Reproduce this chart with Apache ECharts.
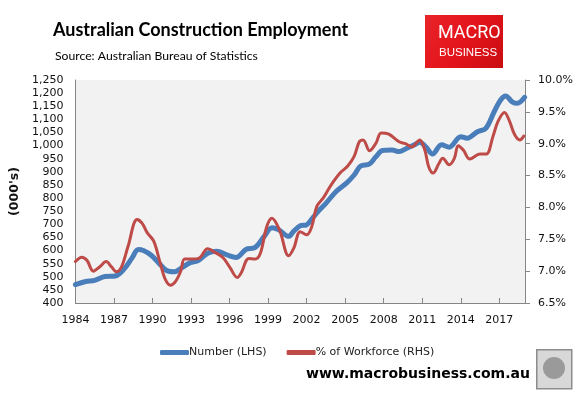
<!DOCTYPE html>
<html>
<head>
<meta charset="utf-8">
<script src="https://cdn.jsdelivr.net/npm/echarts@6/dist/echarts.min.js"></script>
<style>
html,body{margin:0;padding:0;background:#fff;}
#c{width:584px;height:394px;}
</style>
</head>
<body>
<div id="c"></div>
<script>
// Number employed in construction ('000s, LHS)
const numYears = [1984.0,1984.8,1985.5,1986.3,1987.1,1987.8,1988.4,1988.9,1989.3,1989.9,1990.5,1991.1,1991.7,1992.3,1992.9,1993.6,1994.3,1995.0,1995.8,1996.5,1997.3,1998.0,1998.7,1999.3,1999.8,2000.6,2001.0,2001.5,2002.0,2002.4,2002.9,2003.5,2004.3,2005.1,2005.7,2006.2,2006.9,2007.4,2007.9,2008.65,2009.2,2009.8,2010.4,2010.8,2011.3,2011.8,2012.5,2013.1,2014.0,2014.5,2015.3,2015.95,2016.6,2017.1,2017.5,2018.0,2018.4,2018.97];
const numValues = [470,482,486,501,503,530,571,604,600,582,552,524,519,535,553,563,590,597,583,573,605,612,654,687,680,654,674,694,698,720,749,780,825,857,888,922,930,958,981,983,977,990,1003,1013,994,968,1003,994,1034,1028,1053,1066,1129,1174,1189,1167,1161,1184];
// Construction share of workforce (%, RHS)
const pctYears = [1984.0,1984.5,1984.9,1985.4,1985.9,1986.4,1986.8,1987.2,1987.6,1988.1,1988.8,1989.2,1989.6,1990.1,1990.6,1991.0,1991.4,1991.8,1992.2,1992.5,1993.1,1993.6,1994.3,1994.9,1995.5,1996.05,1996.6,1996.9,1997.5,1998.0,1998.4,1998.9,1999.3,1999.9,2000.6,2001.0,2001.5,2002.0,2002.4,2002.8,2003.3,2003.9,2004.6,2005.2,2005.7,2006.1,2006.4,2006.9,2007.4,2007.8,2008.4,2009.2,2009.7,2010.2,2010.8,2011.2,2011.5,2011.85,2012.3,2012.6,2013.1,2013.5,2013.8,2014.2,2014.7,2015.5,2016.0,2016.5,2016.9,2017.4,2017.8,2018.2,2018.6,2018.9];
const pctValues = [7.15,7.22,7.17,7.00,7.07,7.15,7.07,6.99,7.07,7.39,7.81,7.75,7.60,7.47,7.13,6.87,6.78,6.84,7.00,7.19,7.19,7.20,7.35,7.29,7.21,7.05,6.90,6.97,7.20,7.19,7.28,7.70,7.83,7.64,7.24,7.36,7.62,7.57,7.70,8.02,8.15,8.35,8.54,8.65,8.80,9.03,9.06,8.89,9.01,9.17,9.15,9.03,9.00,8.95,9.06,8.90,8.64,8.54,8.69,8.77,8.67,8.77,8.97,8.90,8.76,8.84,8.84,9.11,9.35,9.49,9.35,9.14,9.06,9.12];
const seriesNames = ['Number (LHS)', '% of Workforce (RHS)'];
const titleText = 'Australian Construction Employment';
const sourceText = 'Source: Australian Bureau of Statistics';
const yAxisName = "(000's)";
const siteText = 'www.macrobusiness.com.au';

const axisGray = '#868686';
const lblFont = 'DejaVu Sans';

const chart = echarts.init(document.getElementById('c'), null, {renderer:'canvas'});
chart.setOption({
  animation:false,
  backgroundColor:'#ffffff',
  grid:{left:69, right:59, top:80, bottom:91, show:true, backgroundColor:'#f2f2f2', borderWidth:0},
  legend:{
    left:160, top:347, padding:0, itemWidth:29, itemHeight:5, itemGap:20, icon:'roundRect',
    textStyle:{fontFamily:lblFont, fontSize:11, color:'#222', padding:[0,0,0,-5]},
    data:seriesNames
  },
  xAxis:{
    type:'value', min:1984, max:2019, interval:3,
    axisLine:{show:true, lineStyle:{color:axisGray, width:1}},
    axisTick:{show:true, inside:true, length:5, lineStyle:{color:axisGray}},
    splitLine:{show:false},
    axisLabel:{fontFamily:lblFont, fontSize:11, color:'#111', margin:12,
      formatter:v => ((v-1984)%3===0 ? String(v) : '')}
  },
  yAxis:[{
    type:'value', min:400, max:1250, interval:50, position:'left',
    name:yAxisName, nameLocation:'middle', nameGap:43, nameRotate:90,
    nameTextStyle:{fontFamily:lblFont, fontSize:12.5, fontWeight:'bold', color:'#111'},
    axisLine:{show:true, lineStyle:{color:axisGray}},
    axisTick:{show:false},
    splitLine:{show:false},
    axisLabel:{fontFamily:lblFont, fontSize:11, color:'#111', margin:12,
      formatter:v => v.toLocaleString('en-US')}
  },{
    type:'value', min:6.5, max:10, interval:0.5, position:'right',
    axisLine:{show:true, lineStyle:{color:axisGray}},
    axisTick:{show:true, length:5, lineStyle:{color:axisGray}},
    splitLine:{show:false},
    axisLabel:{fontFamily:lblFont, fontSize:11, color:'#111', margin:13,
      formatter:v => v.toFixed(1)+'%'}
  }],
  series:[{
    name:seriesNames[0], type:'line', yAxisIndex:0, smooth:0.35, showSymbol:false, symbol:'none',
    lineStyle:{color:'#4a7ebb', width:5, cap:'round', join:'round'}, itemStyle:{color:'#4a7ebb'},
    data:numYears.map((y,i)=>[y,numValues[i]]), z:2
  },{
    name:seriesNames[1], type:'line', yAxisIndex:1, smooth:0.35, showSymbol:false, symbol:'none',
    lineStyle:{color:'#be4b48', width:3, cap:'round', join:'round'}, itemStyle:{color:'#be4b48'},
    data:pctYears.map((y,i)=>[y,pctValues[i]]), z:3
  }],
  graphic:[
    {type:'text', left:53, top:21, style:{text:titleText, font:'bold 18px Lato', fill:'#000'}},
    {type:'text', left:55, top:50, style:{text:sourceText, font:'12.2px Lato', fill:'#000'}},
    {type:'rect', left:425, top:15, shape:{width:78, height:53},
      style:{fill:new echarts.graphic.LinearGradient(0,0,1,1,[{offset:0,color:'#e8242a'},{offset:0.5,color:'#e4141b'},{offset:1,color:'#c80d12'}])}},
    {type:'text', left:438, top:24, style:{text:'MACRO', font:'18px Roboto', fill:'#fff'}},
    {type:'text', left:439, top:47, style:{text:'BUSINESS', font:'11.5px "Liberation Sans"', fill:'#fff'}},
    {type:'text', left:306, top:367, style:{text:siteText, font:'bold 14px "DejaVu Sans"', fill:'#000'}},
    {type:'rect', left:536, top:349, shape:{width:35, height:39}, style:{fill:'#d8d8d8', stroke:'#8c8c8c', lineWidth:1.5}},
    {type:'circle', left:543, top:357, shape:{r:11}, style:{fill:'#9a9a9a'}}
  ]
});
</script>
</body>
</html>
